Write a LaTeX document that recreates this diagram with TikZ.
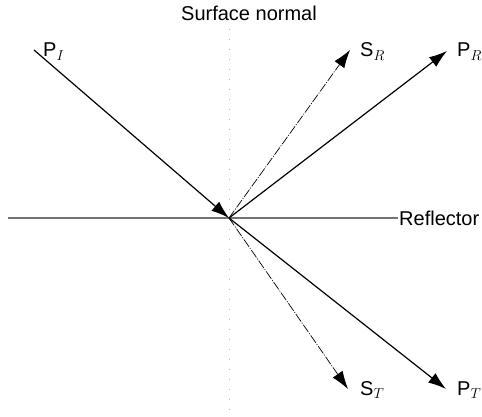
\documentclass[tikz,border=0pt]{standalone}
\usepackage{fontspec}
\setmainfont{Liberation Sans}
\usetikzlibrary{arrows.meta}
\begin{document}
\begin{tikzpicture}[x=1pt,y=-1pt,
  lbl/.style={anchor=base west,inner sep=0pt,font=\fontsize{20}{23}\selectfont},
  ray/.style={black,line width=1.2pt,-{Latex[length=18pt,width=12pt]}},
  sray/.style={black,line width=0.7pt,dash pattern=on 9pt off 1.5pt on 1pt off 1.5pt,-{Latex[length=18pt,width=12pt]}},
  refl/.style={black!55,line width=2.2pt},
  normal/.style={gray!60,line width=1pt,dash pattern=on 1pt off 9pt}]
\useasboundingbox (0,0) rectangle (482,417);
\coordinate (O) at (229,218);
\coordinate (PIs) at (34,50);
\coordinate (PRt) at (447,51);
\coordinate (SRt) at (350,50);
\coordinate (STt) at (348,389);
\coordinate (PTt) at (446,389);
\coordinate (Rl) at (8,218);
\coordinate (Rr) at (398,218);
\coordinate (Nt) at (229,29);
\coordinate (Nb) at (229,412);
\node[lbl,anchor=base] (sn) at (249,21) {Surface normal};
\node[lbl] (refl) at (399,225) {Reflector};
\node[lbl] (pi) at (43,57) {P$_I$};
\node[lbl] (sr) at (360,57) {S$_R$};
\node[lbl] (pr) at (457,57) {P$_R$};
\node[lbl] (st) at (360,395) {S$_T$};
\node[lbl] (pt) at (457,395) {P$_T$};
\draw[normal] (Nt) -- (Nb);
\draw[refl] (Rl) -- (Rr);
\draw[ray] (PIs) -- (O);
\draw[ray] (O) -- (PRt);
\draw[sray] (O) -- (SRt);
\draw[sray] (O) -- (STt);
\draw[ray] (O) -- (PTt);
\end{tikzpicture}
\end{document}
